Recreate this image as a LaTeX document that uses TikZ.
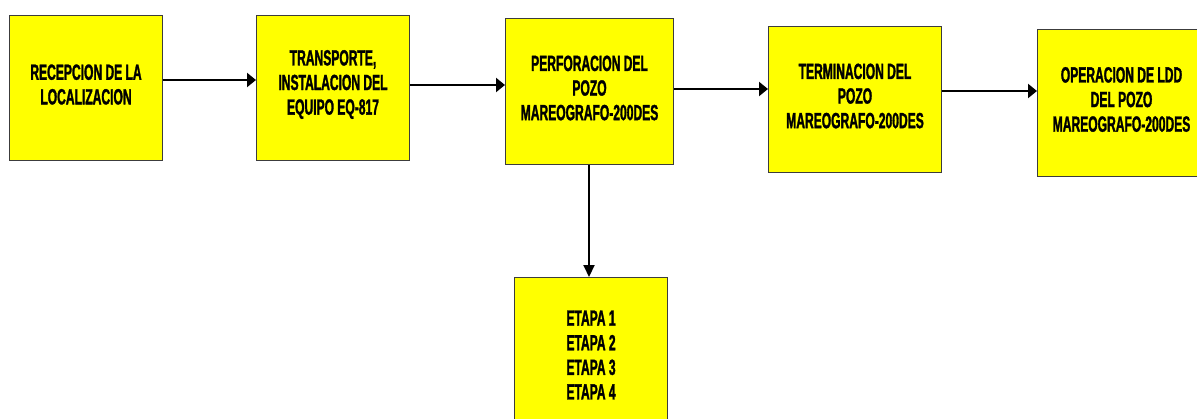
\documentclass[tikz,border=0pt]{standalone}
\usepackage{fontspec}
\newfontfamily\narrowfont[FakeStretch=0.55,BoldFeatures={FakeBold=1.4}]{Liberation Sans}
\usetikzlibrary{arrows.meta}
\definecolor{boxyellow}{RGB}{255,255,0}
\definecolor{boxline}{RGB}{60,60,60}

\begin{document}
\begin{tikzpicture}[x=0.02cm,y=-0.02cm]
		\tikzstyle{etapa}=[draw=boxline,line width=0.6pt,fill=boxyellow,rectangle,text centered,anchor=north west,inner sep=2pt,font={\narrowfont\bfseries\fontsize{12.5}{14}\selectfont},execute at begin node={\spaceskip=0.15em\xspaceskip=0.15em\relax},execute at end node={\endgraf\vspace{0.14cm}}]
		\tikzstyle{flecha}=[line width=1.6pt,-{Triangle[length=0.18cm,width=0.28cm]}]
		
		\clip (0,0) rectangle (1197,419);
		\useasboundingbox (0,0) rectangle (1197,419);
		
		\node[etapa,minimum width=3.06cm,minimum height=2.9cm,text width=2.8cm] (recepcion) at (9,15) {RECEPCION DE LA\\ LOCALIZACION};
		\node[etapa,minimum width=3.06cm,minimum height=2.9cm,text width=2.8cm] (transporte) at (256,15) {TRANSPORTE,\\ INSTALACION DEL\\ EQUIPO EQ-817};
		\node[etapa,minimum width=3.36cm,minimum height=2.92cm,text width=3.1cm] (perforacion) at (505,18) {PERFORACION DEL\\ POZO\\ MAREOGRAFO-200DES};
		\node[etapa,minimum width=3.46cm,minimum height=2.92cm,text width=3.2cm] (terminacion) at (768,26) {TERMINACION DEL\\ POZO\\ MAREOGRAFO-200DES};
		\node[etapa,minimum width=3.6cm,minimum height=2.94cm,text width=3.2cm] (operacion) at (1037,29) {\hspace*{-0.24cm}OPERACION DE LDD\\ \hspace*{-0.24cm}DEL POZO\\ \hspace*{-0.24cm}MAREOGRAFO-200DES};
		\node[etapa,minimum width=3.06cm,minimum height=3.24cm,text width=2.8cm] (etapas) at (514,277) {ETAPA 1\\ ETAPA 2\\ ETAPA 3\\ ETAPA 4};
		
		\draw[flecha] (recepcion.east |- 0,80) -- (transporte.west |- 0,80);
		\draw[flecha] (transporte.east |- 0,85) -- (perforacion.west |- 0,85);
		\draw[flecha] (perforacion.east |- 0,89) -- (terminacion.west |- 0,89);
		\draw[flecha] (terminacion.east |- 0,91) -- (operacion.west |- 0,91);
		\draw[line width=1.2pt,-{Triangle[length=0.24cm,width=0.22cm]}] (perforacion.south -| 589,0) -- (etapas.north -| 589,0);
		
		\end{tikzpicture}
\end{document}
